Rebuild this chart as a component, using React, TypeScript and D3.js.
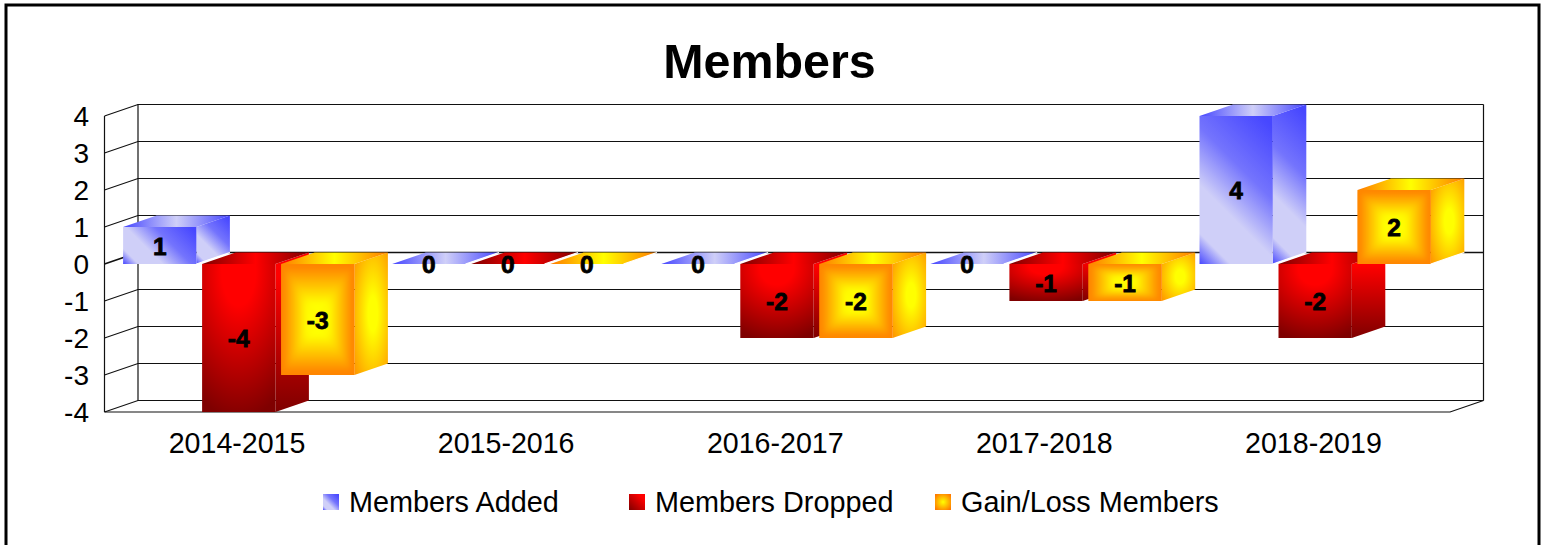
import React from "react";
import * as d3 from "d3";

const categories = ["2014-2015", "2015-2016", "2016-2017", "2017-2018", "2018-2019"];
const seriesNames = ["Members Added", "Members Dropped", "Gain/Loss Members"];
const membersAdded = [1, 0, 0, 0, 4];
const membersDropped = [-4, 0, -2, -1, -2];
const gainLoss = [-3, 0, -2, -1, 2];
const seriesValues = [membersAdded, membersDropped, gainLoss];
const yTicks = [4, 3, 2, 1, 0, -1, -2, -3, -4];
const legendX = [323, 629, 935];

const FONT = "'Liberation Sans', Arial, sans-serif";
const DX = 33.5;
const DY = 11.5;
const y = d3.scaleLinear().domain([-4, 4]).range([412, 116]);
const x0 = d3.scaleBand<string>().domain(categories).range([104.5, 1450]);
const x1 = d3.scaleLinear().domain([0, 1]).range([18.6, 97.6]);
const BAR_W = 73.3;
const px = (v: number) => Math.floor(v) + 0.5;
const pts = (p: number[][]) => p.map((d) => d.join(",")).join(" ");

const BLUE = "#4747ff";
const MID = "#7474fd";
const LIGHT = "#cfcff8";
const RED = "#ff0000";
const DARK = "#7f0000";
const YEL = "#ffff00";
const ORG = "#ff7b00";

const blueStops: [number, string][] = [
  [0, BLUE],
  [0.14, LIGHT],
  [0.36, LIGHT],
  [0.62, MID],
  [0.95, BLUE],
  [1, BLUE],
];

function Defs() {
  const lin = (id: string, c: [number, number, number, number], stops: [number, string][]) => (
    <linearGradient id={id} x1={c[0]} y1={c[1]} x2={c[2]} y2={c[3]}>
      {stops.map((s, i) => (
        <stop key={i} offset={s[0]} stopColor={s[1]} />
      ))}
    </linearGradient>
  );
  const yellow: [number, string][] = [
    [0, ORG],
    [0.72, YEL],
    [1, YEL],
  ];
  return (
    <defs>
      {lin("blueBase", [0, 1, 1, 0], blueStops)}
      {lin("blueTop", [0, 0, 1, 0], [
        [0, BLUE],
        [0.5, LIGHT],
        [1, BLUE],
      ])}
      {lin("redTop", [0, 0, 1, 0], [
        [0, DARK],
        [0.5, RED],
        [1, DARK],
      ])}
      {lin("redLegend", [0, 1, 1, 0], [
        [0, DARK],
        [0.8, RED],
        [1, RED],
      ])}
      <radialGradient id="redFace" cx="0.5" cy="0.05" r="1.05">
        <stop offset="0" stopColor={RED} />
        <stop offset="0.22" stopColor={RED} />
        <stop offset="0.95" stopColor={DARK} />
        <stop offset="1" stopColor={DARK} />
      </radialGradient>
      {lin("redSide", [0, 0, 0, 1], [
        [0, RED],
        [0.15, RED],
        [1, DARK],
      ])}
      {lin("yelTop", [0, 0, 1, 0], [
        [0, ORG],
        [0.5, YEL],
        [1, ORG],
      ])}
      {lin("yT", [0, 0, 0, 1], yellow)}
      {lin("yB", [0, 1, 0, 0], yellow)}
      {lin("yL", [0, 0, 1, 0], yellow)}
      {lin("yR", [1, 0, 0, 0], yellow)}
      <filter id="soft" x="-20%" y="-20%" width="140%" height="140%">
        <feGaussianBlur stdDeviation="2.5" />
      </filter>
      <radialGradient id="yelSide" cx="0.55" cy="0.5" r="0.7">
        <stop offset="0" stopColor={YEL} />
        <stop offset="0.2" stopColor={YEL} />
        <stop offset="1" stopColor="#ff9a00" />
      </radialGradient>
      <radialGradient id="yelLegend" cx="0.5" cy="0.5" r="0.62">
        <stop offset="0" stopColor={YEL} />
        <stop offset="1" stopColor={ORG} />
      </radialGradient>
    </defs>
  );
}

function YellowFront({ id, a, b, t, u }: { id: string; a: number; b: number; t: number; u: number }) {
  const c = [(a + b) / 2, (t + u) / 2];
  return (
    <g>
      <clipPath id={id}>
        <rect x={a} y={t} width={b - a} height={u - t} />
      </clipPath>
      <rect x={a} y={t} width={b - a} height={u - t} fill="#ff8a00" />
      <g clipPath={`url(#${id})`}>
        <g filter="url(#soft)">
          <polygon points={pts([[a, t], [b, t], c])} fill="url(#yT)" />
          <polygon points={pts([[a, u], [b, u], c])} fill="url(#yB)" />
          <polygon points={pts([[a, t], [a, u], c])} fill="url(#yL)" />
          <polygon points={pts([[b, t], [b, u], c])} fill="url(#yR)" />
        </g>
      </g>
    </g>
  );
}

function BlueDiagonal({ id, l, b, w, h }: { id: string; l: number; b: number; w: number; h: number }) {
  const d = (w + h) / 2;
  return (
    <linearGradient id={id} href="#blueBase" gradientUnits="userSpaceOnUse" x1={l} y1={b} x2={l + d} y2={b - d} />
  );
}

function Bar({ id, left, value, s }: { id: string; left: number; value: number; s: number }) {
  const right = left + BAR_W;
  const t = y(Math.max(value, 0));
  const u = y(Math.min(value, 0));
  const h = u - t;
  const sideFill = [`url(#${id}s)`, "url(#redSide)", "url(#yelSide)"][s];
  const topFill = ["url(#blueTop)", "url(#redTop)", "url(#yelTop)"][s];
  const frontFill = [`url(#${id}f)`, "url(#redFace)", ""][s];
  return (
    <g>
      {s === 0 && (
        <defs>
          <BlueDiagonal id={`${id}f`} l={left} b={u} w={BAR_W} h={h} />
          <BlueDiagonal id={`${id}s`} l={right} b={u} w={DX} h={h + DY} />
        </defs>
      )}
      {h > 0 && (
        <polygon
          points={pts([[right, t], [right + DX, t - DY], [right + DX, u - DY], [right, u]])}
          fill={sideFill}
        />
      )}
      <polygon
        points={pts([[left, t], [left + DX, t - DY], [right + DX, t - DY], [right, t]])}
        fill={topFill}
      />
      {h > 0 &&
        (s === 2 ? (
          <YellowFront id={`${id}c`} a={left} b={right} t={t} u={u} />
        ) : (
          <rect x={left} y={t} width={BAR_W} height={h} fill={frontFill} />
        ))}
      {value >= 0 && (
        <line x1={right} y1={y(0)} x2={right + DX} y2={y(0) - DY} stroke="#fff" strokeWidth={1.2} />
      )}
    </g>
  );
}

export default function App() {
  const frontL = x0.range()[0];
  const frontR = x0.range()[1];
  const backL = frontL + DX;
  const backR = frontR + DX;
  const bottomF = y(-4);
  const topF = y(4);
  return (
    <svg
      width={1545}
      height={545}
      viewBox="0 0 1545 545"
      style={{ position: "absolute", left: 0, top: 0, background: "#fff" }}
    >
      <Defs />
      <rect x={6} y={5} width={1533} height={600} fill="#fff" stroke="#000" strokeWidth={3} />
      <text x={769.5} y={78} textAnchor="middle" fontFamily={FONT} fontWeight="bold" fontSize={48.4}>
        Members
      </text>

      <g stroke="#111" strokeWidth={1.2} fill="none">
        {yTicks.map((t) => (
          <polyline
            key={t}
            points={pts([
              [frontL, y(t)],
              [backL, px(y(t) - DY)],
              [backR, px(y(t) - DY)],
            ])}
            strokeWidth={t === 0 ? 1.6 : 1.2}
          />
        ))}
        <line x1={frontL} y1={topF} x2={frontL} y2={bottomF} />
        <line x1={backL} y1={topF - DY} x2={backL} y2={bottomF - DY} />
        <line x1={backR} y1={topF - DY} x2={backR} y2={bottomF - DY} />
        <polyline
          points={pts([
            [frontL, bottomF],
            [frontR, bottomF],
            [backR, bottomF - DY],
          ])}
        />
      </g>

      <g fontFamily={FONT} fontSize={28} textAnchor="end" fill="#000">
        {yTicks.map((t) => (
          <text key={t} x={89} y={y(t) + 9.5}>
            {t}
          </text>
        ))}
      </g>

      {categories.map((c, i) =>
        seriesValues.map((vals, s) => (
          <Bar key={c + s} id={`b${i}-${s}`} left={(x0(c) as number) + x1(s)} value={vals[i]} s={s} />
        ))
      )}

      <g
        fontFamily={FONT}
        fontWeight="bold"
        fontSize={24.5}
        textAnchor="middle"
        fill="#000"
        stroke="#000"
        strokeWidth={0.8}
      >
        {categories.map((c, i) =>
          seriesValues.map((vals, s) => {
            const v = vals[i];
            const cx = (x0(c) as number) + x1(s) + BAR_W / 2;
            const cy = (y(Math.max(v, 0)) + y(Math.min(v, 0))) / 2;
            return (
              <text key={c + s} x={cx} y={cy + 9}>
                {v}
              </text>
            );
          })
        )}
      </g>

      <g fontFamily={FONT} fontSize={28.6} textAnchor="middle" fill="#000">
        {categories.map((c) => (
          <text key={c} x={(x0(c) as number) + x0.bandwidth() / 2 - 2} y={452.5}>
            {c}
          </text>
        ))}
      </g>

      <g fontFamily={FONT} fontSize={28.8} fill="#000">
        {seriesNames.map((n, i) => (
          <g key={n}>
            <rect
              x={legendX[i]}
              y={494}
              width={16}
              height={16}
              fill={["url(#blueBase)", "url(#redLegend)", "url(#yelLegend)"][i]}
            />
            <text x={legendX[i] + 26} y={511.5}>
              {n}
            </text>
          </g>
        ))}
      </g>
    </svg>
  );
}
